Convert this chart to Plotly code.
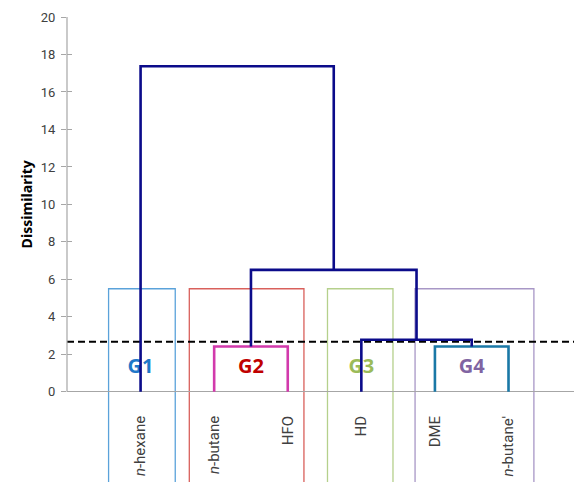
import plotly.graph_objects as go

# ---------------- data ----------------
leaf_labels = ["<i>n</i>-hexane", "<i>n</i>-butane", "HFO", "HD", "DME", "<i>n</i>-butane'"]
leaf_pos = [1, 2, 3, 4, 5, 6]

# linkage: (left child, right child, height, colour key); leaves 0..5, new nodes 6..
merge_left = [1, 4, 3, 6, 0]
merge_right = [2, 5, 7, 8, 9]
merge_height = [2.42, 2.42, 2.78, 6.51, 17.37]
merge_color = ["magenta", "teal", "navy", "navy", "navy"]

cut_level = 2.67

group_names = ["G1", "G2", "G3", "G4"]
group_members = [[0], [1, 2], [3], [4, 5]]
group_box_top = 5.5
group_box_left = [0.565, 1.662, 3.54, 4.73]
group_box_right = [1.471, 3.22, 4.43, 6.345]

y_ticks = list(range(0, 21, 2))

# ---------------- styles ----------------
line_colors = {"navy": "#0B0B8A", "magenta": "#D23AAC", "teal": "#1A78A6"}
group_text_colors = ["#1F78C8", "#C00000", "#9BBB59", "#8064A2"]
group_box_colors = ["#5AA2DA", "#D9605C", "#B5D08C", "#A897C6"]
FONT = "Roboto"

X_MAX = 6.89
Y_MIN = -4.81

fig = go.Figure()

# group labels (underneath the tree lines)
for name, members, col in zip(group_names, group_members, group_text_colors):
    cx = sum(leaf_pos[m] for m in members) / len(members)
    fig.add_trace(go.Scatter(
        x=[cx], y=[1.25], mode="text", text=[f"<b>{name}</b>"],
        textfont=dict(family="Open Sans", size=20, color=col),
        hoverinfo="skip", showlegend=False))

# cut line
fig.add_trace(go.Scatter(
    x=[0, X_MAX], y=[cut_level, cut_level], mode="lines",
    line=dict(color="black", width=2, dash="7px,4px"),
    hoverinfo="skip", showlegend=False))

# dendrogram
node_x = list(leaf_pos)
node_h = [0.0] * len(leaf_pos)
for l, r, h, c in zip(merge_left, merge_right, merge_height, merge_color):
    xl, xr = node_x[l], node_x[r]
    fig.add_trace(go.Scatter(
        x=[xl, xl, xr, xr], y=[node_h[l], h, h, node_h[r]], mode="lines",
        line=dict(color=line_colors[c], width=2.6),
        hoverinfo="skip", showlegend=False))
    node_x.append((xl + xr) / 2)
    node_h.append(h)

# invisible trace for the secondary (inner tick) axis
fig.add_trace(go.Scatter(x=[0], y=[0], yaxis="y2", mode="markers",
                         marker=dict(opacity=0), hoverinfo="skip", showlegend=False))

shapes = []
for x0, x1, col in zip(group_box_left, group_box_right, group_box_colors):
    shapes.append(dict(type="rect", xref="x", yref="y", x0=x0, x1=x1,
                       y0=Y_MIN - 2, y1=group_box_top, layer="below",
                       line=dict(color=col, width=1.3)))
# y axis line 0..20
shapes.append(dict(type="line", xref="paper", yref="y", x0=0, x1=0, y0=0, y1=20,
                   line=dict(color="#A6A6A6", width=1.2)))

annotations = [dict(x=0, y=10, xref="paper", yref="y", xshift=-41,
                    xanchor="center", yanchor="middle",
                    text="<b>Dissimilarity</b>", textangle=-90, showarrow=False,
                    font=dict(family="Open Sans", size=14, color="#000000"))]

fig.update_layout(
    width=574, height=482,
    margin=dict(l=67, r=0, t=17, b=0, autoexpand=False),
    paper_bgcolor="white", plot_bgcolor="white",
    showlegend=False,
    shapes=shapes, annotations=annotations,
    xaxis=dict(range=[0, X_MAX], fixedrange=True, automargin=False,
               anchor="free", position=(0 - Y_MIN) / (20 - Y_MIN), side="bottom",
               tickvals=leaf_pos, ticktext=leaf_labels, tickangle=-90,
               ticks="", showline=False, showgrid=False, zeroline=False,
               tickfont=dict(family=FONT, size=15, color="#404040"),
               ticklabelstandoff=20),
    yaxis=dict(range=[Y_MIN, 20], tickvals=y_ticks, ticktext=[str(v) for v in y_ticks],
               ticks="outside", ticklen=5, tickcolor="#A6A6A6", tickwidth=1,
               showgrid=False, showline=False, zeroline=True, automargin=False,
               zerolinecolor="#A6A6A6", zerolinewidth=1.2,
               tickfont=dict(family=FONT, size=13, color="#404040"),
               ticklabelstandoff=3),
    yaxis2=dict(range=[Y_MIN, 20], overlaying="y", anchor="x", side="left",
                tickvals=y_ticks, ticks="inside", ticklen=5, tickcolor="#A6A6A6",
                automargin=False,
                showticklabels=False, showgrid=False, zeroline=False, showline=False),
)

fig.write_html("out.html", config={"displayModeBar": False},
               post_script="document.body.style.margin='0px';document.body.style.overflow='hidden';")
